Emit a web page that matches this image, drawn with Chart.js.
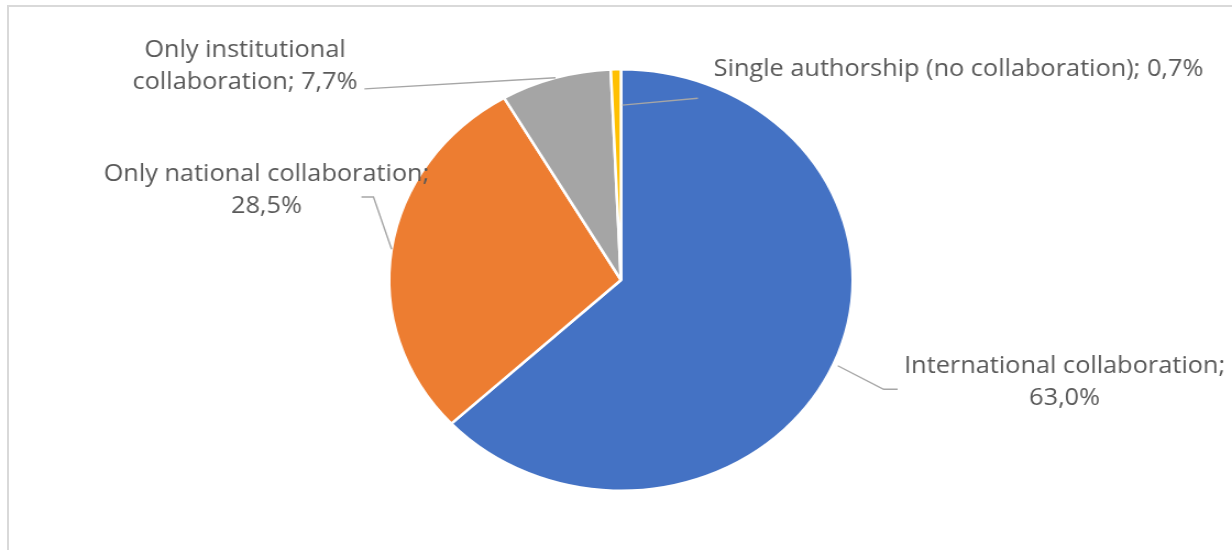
<!DOCTYPE html>
<html>
<head>
<meta charset="utf-8">
<script src="https://cdn.jsdelivr.net/npm/chart.js@4/dist/chart.umd.min.js"></script>
<style>
  html, body { margin: 0; padding: 0; background: #fff; overflow: hidden; }
  #frame {
    position: absolute; left: 7px; top: 5px; width: 1300px; height: 600px;
    border-left: 2px solid #d9d9d9; border-top: 2px solid #d9d9d9;
  }
  #wrap {
    position: absolute; left: 0; top: 0; width: 1120px; height: 550px;
    transform: scaleX(1.1); transform-origin: 0 0;
  }
</style>
</head>
<body>
<div id="frame"></div>
<div id="wrap"><canvas id="myChart" width="1120" height="550"></canvas></div>
<script>
let categories = ['International collaboration', 'Only national collaboration',
                  'Only institutional collaboration', 'Single authorship (no collaboration)'];
let shares = [63.0, 28.5, 7.7, 0.7];
let colors = ['#4472C4', '#ED7D31', '#A5A5A5', '#FFC000'];
// how many words go on the first label line
let firstLineWords = [2, 3, 2, 6];

// leader/label placement, offsets from the point on the slice (canvas px)
let labelLayout = [
  { r: 1.02, elbow: [41.6, 23.5], end: [54.4, 23.5], text: [206.2, 7.5] },
  { r: 1.0, elbow: [-16.5, -52.3], end: [-27.4, -52.3], text: [-113.8, -68.3] },
  { r: 1.0, elbow: [-173.7, 11.1], end: [-173.7, 11.1], text: [-282.3, -20.9] },
  { r: 0.83, elbow: [73.8, -6.9], end: [73.8, -6.9], text: [310.7, -28.9], shift: 5 }
];

function fmt(v) {
  return v.toFixed(1).replace('.', ',') + '%';
}

let pieLabels = {
  id: 'pieLabels',
  afterDatasetsDraw(chart) {
    let ctx = chart.ctx;
    let meta = chart.getDatasetMeta(0);
    ctx.save();
    meta.data.forEach((arc, i) => {
      let p = arc.getProps(['x', 'y', 'startAngle', 'endAngle', 'outerRadius'], true);
      let mid = (p.startAngle + p.endAngle) / 2;
      let lay = labelLayout[i];
      let sx = p.x + Math.cos(mid) * p.outerRadius * lay.r + (lay.shift || 0);
      let sy = p.y + Math.sin(mid) * p.outerRadius * lay.r;

      ctx.strokeStyle = '#a6a6a6';
      ctx.lineWidth = 1.4;
      ctx.beginPath();
      ctx.moveTo(sx, sy);
      ctx.lineTo(sx + lay.elbow[0] - (lay.shift || 0), sy + lay.elbow[1]);
      ctx.lineTo(sx + lay.end[0] - (lay.shift || 0), sy + lay.end[1]);
      ctx.stroke();

      let words = (categories[i] + '; ' + fmt(shares[i])).split(' ');
      let lines = [words.slice(0, firstLineWords[i]).join(' ')];
      if (words.length > firstLineWords[i]) lines.push(words.slice(firstLineWords[i]).join(' '));

      ctx.fillStyle = '#595959';
      ctx.font = '23px "Open Sans"';
      ctx.textAlign = 'center';
      ctx.textBaseline = 'alphabetic';
      lines.forEach((ln, k) => {
        ctx.fillText(ln, sx - (lay.shift || 0) + lay.text[0], sy + lay.text[1] + k * 32);
      });
    });
    ctx.restore();
  }
};

let myChart = document.getElementById('myChart').getContext('2d');
let chart = new Chart(myChart, {
  type: 'pie',
  data: {
    labels: categories,
    datasets: [{
      data: shares,
      backgroundColor: colors,
      borderColor: '#ffffff',
      borderWidth: 2.5,
      hoverOffset: 0
    }]
  },
  options: {
    responsive: false,
    animation: false,
    devicePixelRatio: 1,
    layout: { padding: { top: 68, bottom: 58, left: 301, right: 292 } },
    plugins: {
      legend: { display: false },
      tooltip: { enabled: false }
    }
  },
  plugins: [pieLabels]
});
</script>
</body>
</html>
